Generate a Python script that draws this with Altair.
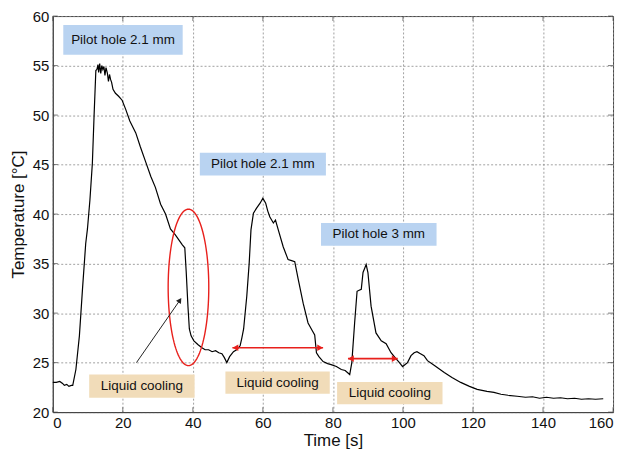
import altair as alt
import pandas as pd
import numpy as np

# ---- measured curve (time [s], temperature [°C]) ----
time_s = [0, 1, 2, 2.8, 3.3, 4.0, 4.6, 5.3, 5.7, 6.6, 7.6, 8.5, 9.4, 9.9, 10.6, 11.3, 11.8, 12.3,
          12.6, 12.9, 13.1, 13.4, 13.7, 14.0, 14.3, 14.6, 14.9, 15.2, 15.6, 15.9, 16.2, 16.5, 16.8,
          17.2, 17.9, 18.8, 19.8, 20.8, 22.0, 23.7, 25.0, 26.5, 28.0, 29.3, 30.8, 32.2, 33.6, 35.0,
          36.0, 37.0, 37.7, 38.1, 38.6, 39.0, 39.5, 40.3, 41.5, 42.6, 43.5, 44.5, 45.5, 46.5, 47.4,
          48.3, 49.0, 49.7, 50.5, 51.6, 52.5, 53.5, 54.0, 54.5, 55.4, 56.1, 56.6, 57.3, 58.2, 59.2,
          60.0, 60.8, 61.4, 62.0, 63.0, 63.6, 64.4, 65.8, 67.2, 68.2, 69.1, 70.1, 71.5, 72.9, 74.0,
          74.8, 75.3, 76.0, 77.2, 78.5, 79.5, 81.0, 82.4, 83.5, 84.8, 85.4, 86.2, 86.9, 87.5, 88.1,
          88.6, 89.5, 90.0, 90.9, 92.3, 93.8, 95.2, 96.6, 98.0, 99.0, 99.9, 101.3, 102.3, 103.2,
          104.0, 105.0, 106.0, 107.0, 109.0, 111.8, 114.0, 116.5, 119.0, 121.2, 124.0, 126.0,
          128.0, 130.0, 132.6, 135.0, 137.0, 139.0, 141.0, 143.0, 145.0, 147.0, 149.0, 151.0,
          153.0, 155.0, 157.2]
temp_c = [23.0, 23.0, 23.1, 22.9, 22.7, 22.8, 22.6, 22.7, 22.7, 24.3, 27.7, 32.5, 37.0, 38.5, 41.4,
          45.1, 50.0, 54.5, 54.6, 55.1, 54.3, 55.2, 54.2, 55.0, 54.6, 54.9, 54.0, 54.8, 54.2, 53.4,
          54.1, 53.6, 53.3, 52.6, 52.2, 51.9, 51.5, 50.6, 49.4, 48.2, 46.8, 45.3, 43.8, 42.7, 41.0,
          40.0, 38.5, 37.9, 37.4, 36.9, 36.6, 34.2, 30.7, 28.4, 27.7, 27.2, 26.8, 26.5, 26.3, 26.3,
          26.1, 26.2, 26.0, 25.9, 25.5, 25.0, 25.6, 26.1, 26.3, 26.7, 27.5, 28.4, 31.7, 35.1, 38.4,
          40.1, 40.6, 41.1, 41.6, 41.1, 40.3, 39.7, 39.1, 39.4, 38.4, 36.7, 35.4, 35.3, 35.2, 33.4,
          31.0, 29.0, 28.3, 27.8, 26.0, 25.6, 25.1, 24.9, 24.8, 24.6, 24.3, 24.2, 23.8, 25.0, 29.0,
          32.2, 32.3, 32.4, 34.1, 34.9, 34.1, 30.7, 28.0, 27.2, 26.9, 26.0, 25.4, 25.0, 24.6, 25.0,
          25.7, 26.0, 26.1, 25.9, 25.7, 25.2, 24.7, 24.0, 23.5, 23.0, 22.6, 22.3, 22.1, 22.0, 21.8,
          21.7, 21.6, 21.5, 21.55, 21.4, 21.5, 21.4, 21.45, 21.35, 21.4, 21.3, 21.35, 21.3, 21.35]

x_ticks = [0, 20, 40, 60, 80, 100, 120, 140, 160]
y_ticks = [20, 25, 30, 35, 40, 45, 50, 55, 60]

# ---- annotation boxes ----
blue_labels = ["Pilot hole 2.1 mm", "Pilot hole 2.1 mm", "Pilot hole 3 mm"]
blue_x1 = [3.0, 42.0, 76.6]
blue_x2 = [37.1, 78.0, 109.6]
blue_y1 = [56.1, 43.9, 36.8]
blue_y2 = [59.1, 46.2, 39.1]

tan_labels = ["Liquid cooling", "Liquid cooling", "Liquid cooling"]
tan_x1 = [10.4, 49.3, 81.2]
tan_x2 = [40.5, 79.1, 111.3]
tan_y1 = [21.45, 21.85, 20.8]
tan_y2 = [23.8, 24.1, 23.05]

# red double arrows: start, end, level
red_start = [51.3, 84.3]
red_end = [77.2, 98.5]
red_level = [26.5, 25.4]

# black arrow
blk_x = [23.9, 36.3]
blk_y = [25.0, 31.3]

# red ellipse: center and radii
ell_cx, ell_cy, ell_rx, ell_ry = 38.75, 32.6, 5.8, 7.9

FONT = "Liberation Sans"

xs = alt.Scale(domain=[0, 160], nice=False, zero=False)
ys = alt.Scale(domain=[20, 60], nice=False, zero=False)

df = pd.DataFrame({"t": time_s, "T": temp_c})

line = alt.Chart(df).mark_line(color="black", strokeWidth=1.2).encode(
    x=alt.X("t:Q", scale=xs, title="Time [s]",
            axis=alt.Axis(values=x_ticks, grid=True, ticks=False)),
    y=alt.Y("T:Q", scale=ys, title="Temperature [°C]",
            axis=alt.Axis(values=y_ticks, grid=True, ticks=False)),
)

# inward ticks on all four sides (MATLAB style)
xt = pd.DataFrame({"t": x_ticks, "lo": 20, "hi": 60})
yt = pd.DataFrame({"T": y_ticks, "lo": 0, "hi": 160})
tick_style = dict(color="#444", thickness=1, size=5)
tick_b = alt.Chart(xt).mark_tick(orient="vertical", yOffset=-2.5, **tick_style).encode(
    x=alt.X("t:Q", scale=xs), y=alt.Y("lo:Q", scale=ys))
tick_t = alt.Chart(xt).mark_tick(orient="vertical", yOffset=2.5, **tick_style).encode(
    x=alt.X("t:Q", scale=xs), y=alt.Y("hi:Q", scale=ys))
tick_l = alt.Chart(yt).mark_tick(orient="horizontal", xOffset=2.5, **tick_style).encode(
    x=alt.X("lo:Q", scale=xs), y=alt.Y("T:Q", scale=ys))
tick_r = alt.Chart(yt).mark_tick(orient="horizontal", xOffset=-2.5, **tick_style).encode(
    x=alt.X("hi:Q", scale=xs), y=alt.Y("T:Q", scale=ys))

blue_df = pd.DataFrame({"t": blue_x1, "t2": blue_x2, "T": blue_y1, "T2": blue_y2, "label": blue_labels})
blue_df["tc"] = (blue_df["t"] + blue_df["t2"]) / 2
blue_df["Tc"] = (blue_df["T"] + blue_df["T2"]) / 2
tan_df = pd.DataFrame({"t": tan_x1, "t2": tan_x2, "T": tan_y1, "T2": tan_y2, "label": tan_labels})
tan_df["tc"] = (tan_df["t"] + tan_df["t2"]) / 2
tan_df["Tc"] = (tan_df["T"] + tan_df["T2"]) / 2

def boxes(d, color):
    r = alt.Chart(d).mark_rect(color=color).encode(
        x=alt.X("t:Q", scale=xs), x2="t2:Q", y=alt.Y("T:Q", scale=ys), y2="T2:Q")
    t = alt.Chart(d).mark_text(font=FONT, fontSize=13.5, color="#111").encode(
        x=alt.X("tc:Q", scale=xs), y=alt.Y("Tc:Q", scale=ys), text="label:N")
    return r + t

blue_layer = boxes(blue_df, "#b9d3f1")
tan_layer = boxes(tan_df, "#f1dcb9")

red_df = pd.DataFrame({"t": red_start, "t2": red_end, "T": red_level})
red_rules = alt.Chart(red_df).mark_rule(color="#e8201c", strokeWidth=1.6).encode(
    x=alt.X("t:Q", scale=xs), x2="t2:Q", y=alt.Y("T:Q", scale=ys))
left_heads = alt.Chart(red_df).mark_point(shape="triangle-left", filled=True, color="#e8201c",
                                          size=45, opacity=1, xOffset=3).encode(
    x=alt.X("t:Q", scale=xs), y=alt.Y("T:Q", scale=ys))
right_heads = alt.Chart(red_df).mark_point(shape="triangle-right", filled=True, color="#e8201c",
                                           size=45, opacity=1, xOffset=-3).encode(
    x=alt.X("t2:Q", scale=xs), y=alt.Y("T:Q", scale=ys))

blk_df = pd.DataFrame({"t": blk_x, "T": blk_y})
blk_line = alt.Chart(blk_df).mark_line(color="#222", strokeWidth=1).encode(
    x=alt.X("t:Q", scale=xs), y=alt.Y("T:Q", scale=ys))
blk_head = alt.Chart(blk_df.tail(1)).mark_point(shape="triangle-up", filled=True, color="#222",
                                                size=35, opacity=1, angle=34).encode(
    x=alt.X("t:Q", scale=xs), y=alt.Y("T:Q", scale=ys))

theta = np.linspace(0, 2 * np.pi, 121)
ell_df = pd.DataFrame({"t": ell_cx + ell_rx * np.cos(theta),
                       "T": ell_cy + ell_ry * np.sin(theta),
                       "o": np.arange(len(theta))})
ellipse = alt.Chart(ell_df).mark_line(color="#e8201c", strokeWidth=1.4).encode(
    x=alt.X("t:Q", scale=xs), y=alt.Y("T:Q", scale=ys), order="o:Q")

chart = alt.layer(
    line, tick_b, tick_t, tick_l, tick_r, blue_layer, tan_layer, ellipse,
    red_rules, left_heads, right_heads, blk_line, blk_head
).properties(
    width=563, height=398,
    autosize=alt.AutoSizeParams(type="none"),
    padding={"left": 45, "top": 7, "right": 8, "bottom": 40},
).configure_view(
    stroke="#444", strokeWidth=1
).configure_axis(
    gridColor="#888", gridDash=[2, 2], gridWidth=0.8, gridOpacity=1,
    domainColor="#444", labelFont=FONT, titleFont=FONT, labelFontSize=15, titleFontSize=17,
    labelColor="#111", titleColor="#111", titleFontWeight="normal",
).configure_axisX(
    labelPadding=3, titlePadding=3
).configure_axisY(
    labelPadding=4, titlePadding=5
)

chart.save("out.html", embed_options={"renderer": "svg", "actions": False})
